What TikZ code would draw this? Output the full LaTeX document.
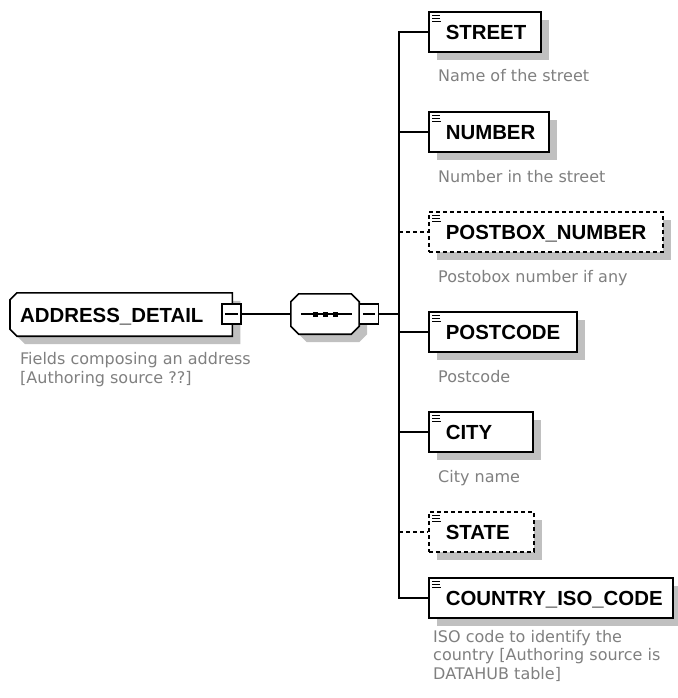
\documentclass[tikz,border=0pt]{standalone}
\usepackage{fontspec}
\setmainfont{Liberation Sans}
\newfontfamily\descfont{DejaVu Sans}
\usetikzlibrary{shadows}
\definecolor{shadowgray}{RGB}{192,192,192}
\definecolor{descgray}{RGB}{128,128,128}
\pgfdeclarelayer{background}
\pgfsetlayers{background,main}

% three short bars in the top-left corner of an element box
\newcommand\simpleicon[1]{%
  \draw[iconline] ([shift={(4,4)}]#1.north west) -- ++(8,0)
                  ([shift={(4,7)}]#1.north west) -- ++(8,0)
                  ([shift={(4,10)}]#1.north west) -- ++(9,0);}
% horizontal bar inside a collapse box
\newcommand\minusbar[1]{%
  \draw[conn] ([xshift=4bp]#1.west) -- ([xshift=-4bp]#1.east);}
% outline with all four corners cut (#1 node, #2 cut size)
\newcommand\octoutline[2]{%
  ([shift={(#2,0)}]#1.north west) -- ([shift={(-#2,0)}]#1.north east)
  -- ([shift={(0,#2)}]#1.north east) -- ([shift={(0,-#2)}]#1.south east)
  -- ([shift={(-#2,0)}]#1.south east) -- ([shift={(#2,0)}]#1.south west)
  -- ([shift={(0,-#2)}]#1.south west) -- ([shift={(0,#2)}]#1.north west)
  -- cycle}
% outline with only the left corners cut
\newcommand\leftcutoutline[2]{%
  ([shift={(#2,0)}]#1.north west) -- (#1.north east) -- (#1.south east)
  -- ([shift={(#2,0)}]#1.south west)
  -- ([shift={(0,-#2)}]#1.south west) -- ([shift={(0,#2)}]#1.north west)
  -- cycle}

\begin{document}
\begin{tikzpicture}[x=1bp,y=-1bp,
  every node/.style={inner sep=0pt},
  boxshadow/.style={drop shadow={shadow xshift=8bp,shadow yshift=-8bp,
      fill=shadowgray,opacity=1}},
  shadowfill/.style={fill=shadowgray, transform canvas={shift={(8,8)}}},
  outline/.style={draw=black, line width=1.6bp, fill=white, line join=miter},
  namefont/.style={font=\fontsize{20.4bp}{24bp}\selectfont\bfseries},
  elem/.style={rectangle, draw=black, line width=1.6bp, fill=white,
      anchor=west, inner xsep=17bp, minimum height=40bp,
      text height=15bp, text depth=0pt, align=left, namefont, boxshadow},
  optelem/.style={elem, dash pattern=on 4bp off 3bp},
  conn/.style={draw=black, line width=1.4bp},
  optconn/.style={conn, dash pattern=on 4bp off 3bp},
  iconline/.style={draw=black, line width=1.2bp, solid},
  desc/.style={font=\descfont\fontsize{16bp}{18.5bp}\selectfont,
      text=descgray, align=left},
  minusbox/.style={rectangle, draw=black, line width=1.4bp, fill=white,
      minimum width=19bp, minimum height=20bp},
]
\begin{pgfonlayer}{background}
  \fill[white] (0,0) rectangle (678,698);
\end{pgfonlayer}
\useasboundingbox (0,0) rectangle (678,698);

% root element
\node[rectangle, anchor=west, minimum width=222bp, minimum height=43bp,
      inner xsep=10bp, text width=202bp, text height=15bp, text depth=0pt,
      align=left, namefont] (addr) at (10,314.5) {ADDRESS\_DETAIL};
\begin{pgfonlayer}{background}
  \fill[shadowfill] \leftcutoutline{addr}{7};
  \draw[outline] \leftcutoutline{addr}{7};
\end{pgfonlayer}
\node[minusbox] (addrmin) at (231.5,314) {};
\minusbar{addrmin}
\node[desc, anchor=north west] (addrdesc) at (20,352.5)
  {Fields composing an address\\{}[Authoring source ??]};

% sequence compositor
\node[rectangle, minimum width=68bp, minimum height=40bp] (seq) at (325,314) {};
\fill[shadowfill] \octoutline{seq}{8};
\draw[outline] \octoutline{seq}{8};
\draw[conn] ([xshift=10bp]seq.west) -- ([xshift=-7bp]seq.east);
\foreach \dx in {-10,0,10}
  {\fill[black] ([shift={(\dx-2.5,-2.5)}]seq.center) rectangle ++(5,5);}
\node[minusbox] (seqmin) at (369,314) {};
\minusbar{seqmin}
\draw[conn] (addrmin.east) -- (seq.west);

% child elements
\node[elem, text width=78bp]  (street)   at (428,32)  {STREET};
\node[elem, text width=86bp]  (number)   at (428,132) {NUMBER};
\node[optelem, text width=200bp] (postbox) at (428,232) {POSTBOX\_NUMBER};
\node[elem, text width=114bp] (postcode) at (428,332) {POSTCODE};
\node[elem, text width=70bp]  (city)     at (428,432) {CITY};
\node[optelem, text width=71bp] (state)  at (428,532) {STATE};
\node[elem, text width=210bp] (country)  at (428,598) {COUNTRY\_ISO\_CODE};
\foreach \n in {street,number,postbox,postcode,city,state,country}
  {\simpleicon{\n}}

% descriptions
\node[desc, anchor=base west] (streetdesc)   at (438,82)  {Name of the street};
\node[desc, anchor=base west] (numberdesc)   at (438,182) {Number in the street};
\node[desc, anchor=base west] (postboxdesc)  at (438,282) {Postobox number if any};
\node[desc, anchor=base west] (postcodedesc) at (438,382) {Postcode};
\node[desc, anchor=base west] (citydesc)     at (438,482) {City name};
\node[desc, anchor=north west] (countrydesc)  at (433,630)
  {ISO code to identify the\\country [Authoring source is\\DATAHUB table]};

% connectors from the compositor to the children
\coordinate (bus) at (399,314);
\draw[conn] (seqmin.east) -- (bus);
\draw[conn] (street.west) -| (bus) |- (country.west);
\draw[conn] (number.west -| bus) -- (number.west);
\draw[optconn] (postbox.west -| bus) -- (postbox.west);
\draw[conn] (postcode.west -| bus) -- (postcode.west);
\draw[conn] (city.west -| bus) -- (city.west);
\draw[optconn] (state.west -| bus) -- (state.west);
\end{tikzpicture}
\end{document}
